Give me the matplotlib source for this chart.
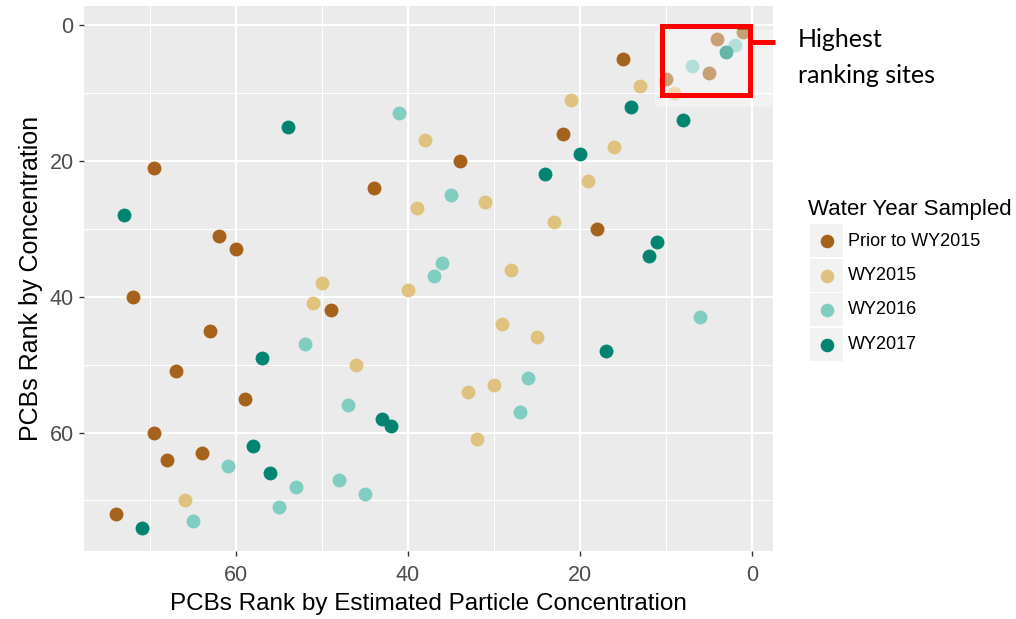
import matplotlib
matplotlib.use("Agg")
import matplotlib.pyplot as plt
from matplotlib.patches import Rectangle
from matplotlib.lines import Line2D

# ---------------- data ----------------
categories = ["Prior to WY2015", "WY2015", "WY2016", "WY2017"]
colors = ["#A6611A", "#DFC27D", "#80CDC1", "#018571"]

prior_x = [1, 4, 15, 5, 10, 22, 34, 69.5, 44, 18, 62, 60, 72, 49, 63, 67, 59, 69.5, 64, 68, 74]
prior_y = [1, 2, 5, 7, 8, 16, 20, 21, 24, 30, 31, 33, 40, 42, 45, 51, 55, 60, 63, 64, 72]

wy2015_x = [13, 9, 21, 38, 16, 19, 31, 39, 23, 28, 50, 40, 51, 29, 25, 46, 30, 33, 32, 66]
wy2015_y = [9, 10, 11, 17, 18, 23, 26, 27, 29, 36, 38, 39, 41, 44, 46, 50, 53, 54, 61, 70]

wy2016_x = [2, 7, 41, 35, 36, 37, 6, 52, 26, 47, 27, 61, 48, 53, 45, 55, 65]
wy2016_y = [3, 6, 13, 25, 35, 37, 43, 47, 52, 56, 57, 65, 67, 68, 69, 71, 73]

wy2017_x = [3, 14, 8, 54, 20, 24, 73, 11, 12, 17, 57, 43, 42, 58, 56, 71]
wy2017_y = [4, 12, 14, 15, 19, 22, 28, 32, 34, 48, 49, 58, 59, 62, 66, 74]

x_ticks = [0, 20, 40, 60]
y_ticks = [0, 20, 40, 60]
x_title = "PCBs Rank by Estimated Particle Concentration"
y_title = "PCBs Rank by Concentration"
legend_title = "Water Year Sampled"
annotation = "Highest\nranking sites"

series_x = [prior_x, wy2015_x, wy2016_x, wy2017_x]
series_y = [prior_y, wy2015_y, wy2016_y, wy2017_y]

# ---------------- figure ----------------
W, H = 1016, 619
plt.rcParams["font.family"] = ["Liberation Sans", "DejaVu Sans"]
fig = plt.figure(figsize=(W / 100, H / 100), dpi=100)
fig.patch.set_facecolor("white")

def fx(px):
    return px / W

def fy(py):
    return 1 - py / H

left, right, top, bottom = 84, 773, 6, 550.7
ax = fig.add_axes([fx(left), fy(bottom), (right - left) / W, (bottom - top) / H])
ax.set_facecolor("#EBEBEB")
for s in ax.spines.values():
    s.set_visible(False)

ax.set_xlim(77.7, -2.48)
ax.set_ylim(77.4, -2.8)
ax.set_xticks(x_ticks)
ax.set_yticks(y_ticks)
ax.set_xticks([10, 30, 50, 70], minor=True)
ax.set_yticks([10, 30, 50, 70], minor=True)
ax.grid(which="major", color="white", linewidth=1.5)
ax.grid(which="minor", color="white", linewidth=0.75)
ax.set_axisbelow(True)
ax.tick_params(which="major", length=3.5, width=1, color="#333333",
               labelsize=15.5, labelcolor="#4D4D4D")
ax.tick_params(axis="x", which="major", pad=7)
ax.tick_params(axis="y", which="major", pad=4)
ax.tick_params(which="minor", length=0)

for xs, ys, c, lab in zip(series_x, series_y, colors, categories):
    ax.scatter(xs, ys, s=100, color=c, linewidths=0, zorder=2, label=lab)

ax.set_xlabel(x_title, fontsize=17.5, color="black", labelpad=5)
ax.set_ylabel(y_title, fontsize=18, color="black", labelpad=5)

# washed-out pasted region and highlight box
ax.add_patch(Rectangle((-2.48, 0.74), 13.73, 11.33, facecolor="white",
                       edgecolor="none", alpha=0.4, zorder=3))
ax.add_patch(Rectangle((0.2, 0.2), 10.2, 10.1, facecolor="none",
                       edgecolor="#FF0000", linewidth=3.6, zorder=5,
                       clip_on=False))
ax.plot([0.2, -2.7], [2.55, 2.55], color="#FF0000", linewidth=3.6,
        solid_capstyle="butt", clip_on=False, zorder=5)

# annotation text
lines = annotation.split("\n")
fig.text(fx(798), fy(46.7), lines[0], fontsize=18, family=["Lato", "DejaVu Sans"],
         va="baseline", ha="left", color="black")
fig.text(fx(798), fy(83.3), lines[1], fontsize=18, family=["Lato", "DejaVu Sans"],
         va="baseline", ha="left", color="black")

# legend (ggplot style)
fig.text(fx(808), fy(215), legend_title, fontsize=16, va="baseline",
         ha="left", color="black")
step = 34.5
for i, (lab, c) in enumerate(zip(categories, colors)):
    ktop = 224 + i * step
    fig.add_artist(Rectangle((fx(810), fy(ktop + 33)), 33 / W, 33 / H,
                             transform=fig.transFigure, facecolor="#F2F2F2",
                             edgecolor="white", linewidth=0))
    cy = ktop + 17
    fig.add_artist(Line2D([fx(826.7)], [fy(cy)], marker="o", markersize=9.8,
                          markerfacecolor=c, markeredgewidth=0,
                          linestyle="none", transform=fig.transFigure))
    fig.text(fx(848), fy(cy), lab, fontsize=13, va="center", ha="left",
             color="black")

fig.savefig("out.png", dpi=100)
